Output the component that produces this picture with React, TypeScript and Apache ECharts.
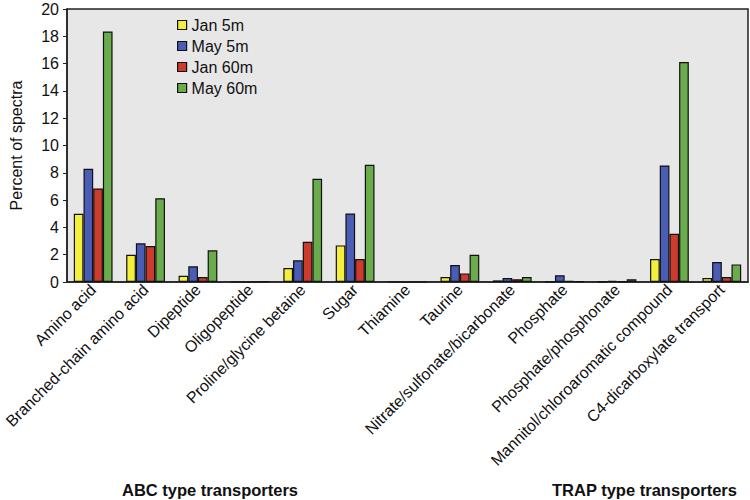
import React, { useEffect, useRef } from "react";
import * as echarts from "echarts";

const categories = [
  "Amino acid",
  "Branched-chain amino acid",
  "Dipeptide",
  "Oligopeptide",
  "Proline/glycine betaine",
  "Sugar",
  "Thiamine",
  "Taurine",
  "Nitrate/sulfonate/bicarbonate",
  "Phosphate",
  "Phosphate/phosphonate",
  "Mannitol/chloroaromatic compound",
  "C4-dicarboxylate transport",
];

const jan5m = [5.0, 2.0, 0.46, 0, 1.02, 2.68, 0, 0.37, 0.12, 0.02, 0.02, 1.68, 0.29];
const may5m = [8.3, 2.83, 1.15, 0, 1.59, 5.02, 0, 1.24, 0.29, 0.49, 0.08, 8.54, 1.46];
const jan60m = [6.85, 2.64, 0.37, 0, 2.95, 1.68, 0, 0.63, 0.2, 0.08, 0.05, 3.54, 0.37];
const may60m = [18.35, 6.13, 2.32, 0.05, 7.56, 8.59, 0, 2.0, 0.37, 0.06, 0.2, 16.12, 1.29];

const seriesNames = ["Jan 5m", "May 5m", "Jan 60m", "May 60m"];
const seriesColors = ["#f3ef3c", "#4a5cb4", "#cc3b2b", "#6aab4b"];
const groupLabels = ["ABC type transporters", "TRAP type transporters"];

const FONT = "Liberation Sans, Arial, sans-serif";

export default function App() {
  const ref = useRef<HTMLDivElement>(null);
  useEffect(() => {
    if (!ref.current) return;
    const chart = echarts.init(ref.current, null, { renderer: "svg" });
    const datasets = [jan5m, may5m, jan60m, may60m];
    chart.setOption({
      animation: false,
      textStyle: { fontFamily: FONT },
      grid: {
        left: 67,
        right: 2,
        top: 9,
        bottom: 218,
        show: true,
        backgroundColor: "#e7e7e7",
        borderColor: "#222",
        borderWidth: 1.5,
      },
      legend: {
        orient: "vertical",
        left: 172,
        top: 12,
        itemWidth: 9,
        itemHeight: 9,
        itemGap: 5,
        icon: "rect",
        textStyle: { fontSize: 16, color: "#111" },
        data: seriesNames.map((n) => ({ name: n, itemStyle: { borderColor: "#111", borderWidth: 1.2 } })),
      },
      xAxis: {
        type: "category",
        data: categories,
        axisLine: { lineStyle: { color: "#222", width: 1.5 } },
        axisTick: { show: false },
        axisLabel: { rotate: 45, interval: 0, fontSize: 16, color: "#111", margin: 5 },
      },
      yAxis: {
        type: "value",
        min: 0,
        max: 20,
        interval: 2,
        name: "Percent of spectra",
        nameLocation: "middle",
        nameGap: 43,
        nameTextStyle: { fontSize: 16, color: "#111" },
        axisLine: { show: true, lineStyle: { color: "#222", width: 1.5 } },
        axisTick: { show: true, length: 4, lineStyle: { color: "#222" } },
        axisLabel: { fontSize: 16, color: "#111", margin: 8 },
        splitLine: { show: false },
      },
      series: seriesNames.map((name, i) => ({
        name,
        type: "bar",
        data: datasets[i],
        barGap: "0%",
        barCategoryGap: "26%",
        itemStyle: { color: seriesColors[i], borderColor: "#111", borderWidth: 1.2 },
      })),
      graphic: [
        {
          type: "text",
          left: 122,
          top: 481,
          style: { text: groupLabels[0], fontSize: 16.5, fontWeight: "bold", fill: "#111", fontFamily: FONT },
        },
        {
          type: "text",
          left: 552,
          top: 481,
          style: { text: groupLabels[1], fontSize: 16.5, fontWeight: "bold", fill: "#111", fontFamily: FONT },
        },
      ],
    });
    return () => chart.dispose();
  }, []);
  return <div ref={ref} style={{ width: 750, height: 500, position: "absolute", left: 0, top: 0 }} />;
}
